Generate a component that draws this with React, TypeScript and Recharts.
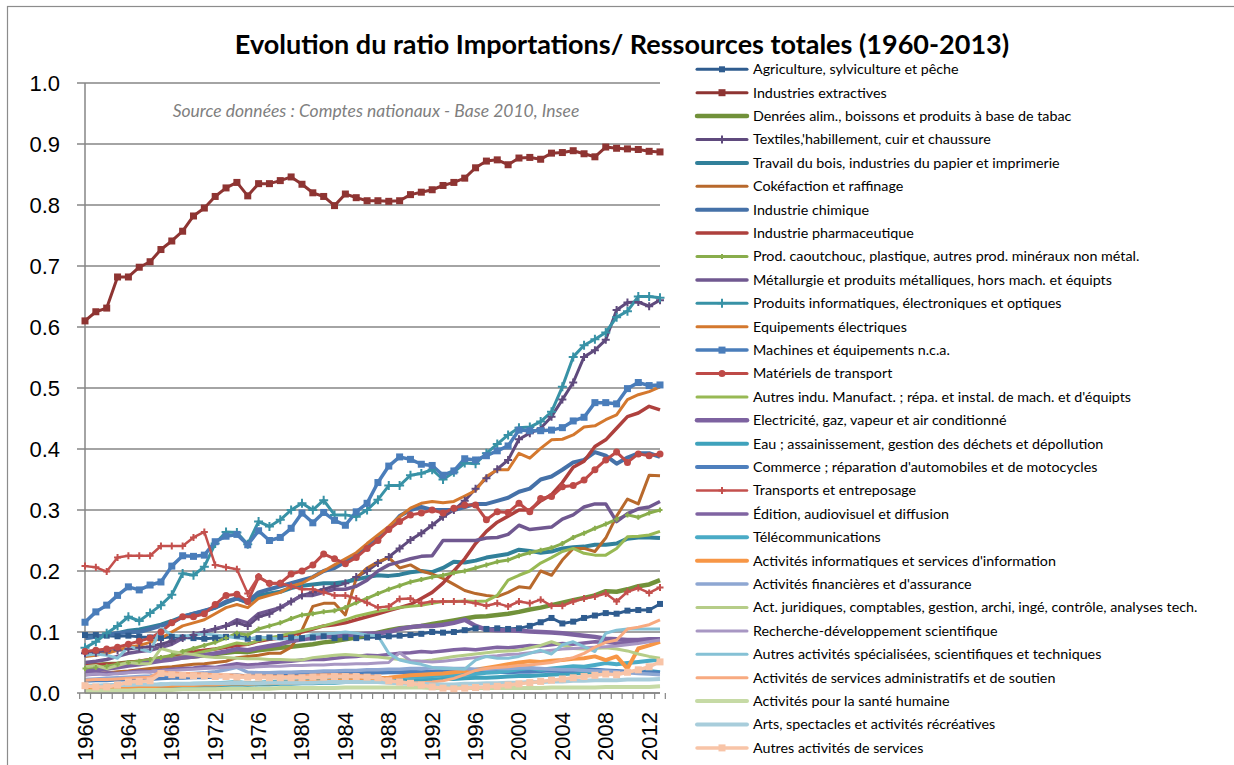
import { CartesianGrid, Line, LineChart, XAxis, YAxis } from 'recharts'

const years = [
  1960, 1961, 1962, 1963, 1964, 1965, 1966, 1967, 1968, 1969,
  1970, 1971, 1972, 1973, 1974, 1975, 1976, 1977, 1978, 1979,
  1980, 1981, 1982, 1983, 1984, 1985, 1986, 1987, 1988, 1989,
  1990, 1991, 1992, 1993, 1994, 1995, 1996, 1997, 1998, 1999,
  2000, 2001, 2002, 2003, 2004, 2005, 2006, 2007, 2008, 2009,
  2010, 2011, 2012, 2013,
]
const yearLabels = [1960, 1964, 1968, 1972, 1976, 1980, 1984, 1988, 1992, 1996, 2000, 2004, 2008, 2012]
const yTicks = [0, 0.1, 0.2, 0.3, 0.4, 0.5, 0.6, 0.7, 0.8, 0.9, 1.0]

const agriculture = [
  0.095, 0.095, 0.094, 0.093, 0.094, 0.092, 0.091, 0.090, 0.092, 0.091,
  0.090, 0.089, 0.090, 0.092, 0.094, 0.089, 0.090, 0.091, 0.092, 0.091,
  0.090, 0.091, 0.093, 0.090, 0.091, 0.090, 0.091, 0.092, 0.093, 0.094,
  0.095, 0.097, 0.100, 0.099, 0.100, 0.103, 0.106, 0.105, 0.106, 0.105,
  0.106, 0.110, 0.116, 0.123, 0.114, 0.117, 0.123, 0.127, 0.131, 0.130,
  0.135, 0.136, 0.136, 0.146,
]
const extractives = [
  0.610, 0.625, 0.631, 0.682, 0.682, 0.698, 0.707, 0.727, 0.741, 0.757,
  0.782, 0.795, 0.814, 0.828, 0.837, 0.815, 0.835, 0.835, 0.840, 0.846,
  0.834, 0.820, 0.814, 0.799, 0.818, 0.812, 0.807, 0.807, 0.806, 0.807,
  0.817, 0.821, 0.825, 0.832, 0.837, 0.844, 0.861, 0.872, 0.874, 0.866,
  0.877, 0.878, 0.875, 0.885, 0.886, 0.889, 0.884, 0.879, 0.895, 0.893,
  0.892, 0.891, 0.888, 0.887,
]
const denrees = [
  0.045, 0.046, 0.047, 0.048, 0.050, 0.051, 0.052, 0.054, 0.056, 0.058,
  0.060, 0.062, 0.064, 0.066, 0.068, 0.067, 0.070, 0.072, 0.074, 0.076,
  0.078, 0.080, 0.083, 0.085, 0.088, 0.091, 0.095, 0.099, 0.103, 0.106,
  0.108, 0.110, 0.113, 0.116, 0.119, 0.122, 0.125, 0.126, 0.128, 0.130,
  0.133, 0.137, 0.140, 0.144, 0.148, 0.152, 0.156, 0.160, 0.167, 0.166,
  0.170, 0.175, 0.178, 0.185,
]
const textiles = [
  0.065, 0.066, 0.068, 0.070, 0.072, 0.074, 0.076, 0.080, 0.085, 0.090,
  0.095, 0.100, 0.105, 0.110, 0.115, 0.110, 0.125, 0.130, 0.140, 0.150,
  0.160, 0.165, 0.170, 0.175, 0.180, 0.190, 0.200, 0.213, 0.223, 0.237,
  0.251, 0.262, 0.275, 0.289, 0.300, 0.315, 0.335, 0.352, 0.367, 0.382,
  0.416, 0.426, 0.434, 0.453, 0.481, 0.509, 0.551, 0.562, 0.579, 0.628,
  0.640, 0.641, 0.634, 0.644,
]
const bois = [
  0.090, 0.092, 0.095, 0.098, 0.102, 0.104, 0.108, 0.112, 0.118, 0.125,
  0.130, 0.134, 0.140, 0.148, 0.155, 0.148, 0.160, 0.163, 0.166, 0.172,
  0.176, 0.178, 0.180, 0.180, 0.182, 0.186, 0.190, 0.193, 0.192, 0.194,
  0.198, 0.200, 0.198, 0.205, 0.215, 0.214, 0.217, 0.222, 0.225, 0.228,
  0.235, 0.233, 0.230, 0.232, 0.237, 0.239, 0.240, 0.243, 0.243, 0.245,
  0.253, 0.255, 0.255, 0.254,
]
const cokefaction = [
  0.030, 0.032, 0.033, 0.035, 0.036, 0.038, 0.040, 0.042, 0.043, 0.045,
  0.047, 0.048, 0.050, 0.052, 0.058, 0.060, 0.062, 0.065, 0.065, 0.075,
  0.103, 0.142, 0.147, 0.147, 0.128, 0.188, 0.205, 0.215, 0.222, 0.205,
  0.210, 0.200, 0.195, 0.188, 0.178, 0.168, 0.163, 0.160, 0.158, 0.165,
  0.174, 0.172, 0.200, 0.193, 0.218, 0.237, 0.237, 0.232, 0.254, 0.290,
  0.318, 0.310, 0.357, 0.356,
]
const chimique = [
  0.090, 0.092, 0.095, 0.098, 0.100, 0.100, 0.105, 0.110, 0.115, 0.125,
  0.130, 0.135, 0.140, 0.150, 0.155, 0.150, 0.165, 0.170, 0.175, 0.180,
  0.185, 0.190, 0.200, 0.205, 0.215, 0.225, 0.240, 0.255, 0.270, 0.290,
  0.300, 0.305, 0.300, 0.300, 0.300, 0.305, 0.310, 0.310, 0.315, 0.320,
  0.330, 0.335, 0.350, 0.355, 0.366, 0.378, 0.382, 0.395, 0.389, 0.376,
  0.386, 0.393, 0.393, 0.387,
]
const pharma = [
  0.045, 0.046, 0.047, 0.048, 0.050, 0.052, 0.055, 0.058, 0.060, 0.065,
  0.068, 0.070, 0.072, 0.075, 0.078, 0.080, 0.085, 0.088, 0.090, 0.095,
  0.100, 0.105, 0.110, 0.112, 0.115, 0.120, 0.125, 0.130, 0.135, 0.140,
  0.145, 0.155, 0.165, 0.180, 0.200, 0.220, 0.245, 0.265, 0.280, 0.290,
  0.300, 0.300, 0.315, 0.325, 0.345, 0.370, 0.380, 0.404, 0.415, 0.434,
  0.453, 0.459, 0.470, 0.464,
]
const caoutchouc = [
  0.040, 0.042, 0.044, 0.047, 0.050, 0.052, 0.055, 0.058, 0.062, 0.068,
  0.073, 0.078, 0.083, 0.090, 0.098, 0.095, 0.105, 0.110, 0.115, 0.122,
  0.128, 0.130, 0.133, 0.135, 0.140, 0.148, 0.155, 0.163, 0.170, 0.176,
  0.182, 0.186, 0.190, 0.193, 0.197, 0.200, 0.205, 0.210, 0.215, 0.218,
  0.225, 0.230, 0.234, 0.238, 0.245, 0.255, 0.262, 0.270, 0.277, 0.285,
  0.292, 0.288, 0.295, 0.300,
]
const metallurgie = [
  0.050, 0.052, 0.055, 0.060, 0.065, 0.068, 0.070, 0.075, 0.080, 0.090,
  0.095, 0.100, 0.105, 0.110, 0.120, 0.115, 0.130, 0.135, 0.140, 0.150,
  0.160, 0.160, 0.165, 0.170, 0.170, 0.175, 0.185, 0.200, 0.210, 0.215,
  0.220, 0.224, 0.225, 0.250, 0.250, 0.250, 0.250, 0.254, 0.255, 0.260,
  0.275, 0.268, 0.270, 0.272, 0.285, 0.292, 0.305, 0.310, 0.310, 0.281,
  0.294, 0.302, 0.305, 0.314,
]
const informatique = [
  0.074, 0.084, 0.098, 0.110, 0.125, 0.118, 0.131, 0.144, 0.161, 0.196,
  0.193, 0.207, 0.245, 0.264, 0.263, 0.244, 0.281, 0.273, 0.284, 0.300,
  0.311, 0.300, 0.316, 0.292, 0.292, 0.289, 0.300, 0.317, 0.340, 0.340,
  0.357, 0.360, 0.366, 0.350, 0.362, 0.377, 0.376, 0.393, 0.408, 0.423,
  0.435, 0.436, 0.445, 0.461, 0.502, 0.551, 0.570, 0.580, 0.591, 0.616,
  0.626, 0.650, 0.650, 0.648,
]
const equipements = [
  0.060, 0.062, 0.065, 0.070, 0.075, 0.078, 0.083, 0.090, 0.100, 0.110,
  0.115, 0.120, 0.130, 0.140, 0.145, 0.140, 0.155, 0.160, 0.165, 0.175,
  0.180, 0.190, 0.200, 0.210, 0.220, 0.230, 0.245, 0.259, 0.273, 0.289,
  0.303, 0.311, 0.314, 0.312, 0.314, 0.323, 0.332, 0.355, 0.366, 0.366,
  0.393, 0.385, 0.401, 0.415, 0.416, 0.423, 0.436, 0.438, 0.448, 0.456,
  0.481, 0.489, 0.494, 0.502,
]
const machines = [
  0.116, 0.133, 0.144, 0.160, 0.174, 0.169, 0.177, 0.182, 0.208, 0.225,
  0.224, 0.226, 0.248, 0.257, 0.260, 0.243, 0.266, 0.250, 0.255, 0.270,
  0.295, 0.279, 0.296, 0.283, 0.275, 0.297, 0.311, 0.345, 0.372, 0.387,
  0.383, 0.375, 0.373, 0.357, 0.364, 0.384, 0.382, 0.389, 0.397, 0.405,
  0.431, 0.430, 0.430, 0.431, 0.435, 0.446, 0.452, 0.476, 0.476, 0.474,
  0.499, 0.509, 0.504, 0.505,
]
const materiels = [
  0.068, 0.070, 0.072, 0.075, 0.080, 0.085, 0.090, 0.100, 0.115, 0.125,
  0.125, 0.130, 0.145, 0.160, 0.162, 0.150, 0.190, 0.180, 0.180, 0.195,
  0.200, 0.210, 0.228, 0.220, 0.212, 0.222, 0.237, 0.250, 0.268, 0.281,
  0.292, 0.295, 0.300, 0.295, 0.303, 0.308, 0.308, 0.284, 0.297, 0.296,
  0.311, 0.297, 0.319, 0.322, 0.338, 0.340, 0.349, 0.366, 0.382, 0.395,
  0.378, 0.392, 0.389, 0.392,
]
const autresIndu = [
  0.035, 0.037, 0.039, 0.042, 0.045, 0.048, 0.050, 0.053, 0.057, 0.060,
  0.064, 0.068, 0.072, 0.077, 0.082, 0.080, 0.086, 0.090, 0.094, 0.098,
  0.102, 0.106, 0.110, 0.115, 0.120, 0.126, 0.130, 0.134, 0.137, 0.140,
  0.142, 0.144, 0.147, 0.150, 0.150, 0.151, 0.150, 0.151, 0.160, 0.185,
  0.193, 0.200, 0.213, 0.222, 0.232, 0.237, 0.229, 0.226, 0.226, 0.237,
  0.256, 0.257, 0.259, 0.265,
]
const electricite = [
  0.035, 0.037, 0.040, 0.042, 0.045, 0.047, 0.050, 0.053, 0.055, 0.058,
  0.060, 0.062, 0.065, 0.068, 0.072, 0.070, 0.074, 0.077, 0.080, 0.085,
  0.088, 0.090, 0.092, 0.094, 0.095, 0.096, 0.097, 0.098, 0.100, 0.105,
  0.108, 0.110, 0.110, 0.112, 0.115, 0.120, 0.110, 0.104, 0.103, 0.103,
  0.102, 0.101, 0.100, 0.099, 0.098, 0.096, 0.094, 0.092, 0.089, 0.088,
  0.087, 0.087, 0.088, 0.088,
]
const eau = [
  0.006, 0.007, 0.007, 0.008, 0.008, 0.009, 0.009, 0.010, 0.010, 0.011,
  0.011, 0.012, 0.012, 0.013, 0.014, 0.013, 0.014, 0.014, 0.015, 0.015,
  0.016, 0.016, 0.017, 0.017, 0.018, 0.018, 0.019, 0.019, 0.020, 0.020,
  0.021, 0.021, 0.022, 0.023, 0.023, 0.024, 0.025, 0.025, 0.026, 0.027,
  0.028, 0.028, 0.029, 0.030, 0.031, 0.032, 0.033, 0.034, 0.035, 0.033,
  0.034, 0.035, 0.036, 0.034,
]
const commerce = [
  0.020, 0.021, 0.021, 0.022, 0.022, 0.023, 0.023, 0.024, 0.025, 0.025,
  0.026, 0.026, 0.027, 0.028, 0.029, 0.027, 0.028, 0.029, 0.029, 0.030,
  0.031, 0.030, 0.031, 0.032, 0.032, 0.032, 0.033, 0.033, 0.034, 0.034,
  0.035, 0.034, 0.035, 0.036, 0.035, 0.036, 0.036, 0.035, 0.035, 0.034,
  0.035, 0.035, 0.036, 0.037, 0.036, 0.037, 0.038, 0.038, 0.037, 0.036,
  0.035, 0.034, 0.034, 0.033,
]
const transports = [
  0.208, 0.206, 0.199, 0.222, 0.225, 0.225, 0.225, 0.241, 0.241, 0.241,
  0.255, 0.264, 0.210, 0.206, 0.203, 0.163, 0.191, 0.179, 0.180, 0.175,
  0.170, 0.170, 0.165, 0.160, 0.160, 0.155, 0.148, 0.140, 0.142, 0.154,
  0.155, 0.147, 0.150, 0.150, 0.150, 0.150, 0.147, 0.143, 0.147, 0.142,
  0.150, 0.147, 0.153, 0.143, 0.143, 0.150, 0.155, 0.158, 0.163, 0.150,
  0.166, 0.172, 0.164, 0.173,
]
const edition = [
  0.030, 0.031, 0.033, 0.032, 0.034, 0.036, 0.035, 0.037, 0.039, 0.040,
  0.041, 0.043, 0.042, 0.045, 0.048, 0.046, 0.047, 0.049, 0.051, 0.052,
  0.054, 0.055, 0.055, 0.057, 0.059, 0.060, 0.062, 0.061, 0.063, 0.065,
  0.066, 0.068, 0.067, 0.069, 0.071, 0.072, 0.071, 0.073, 0.075, 0.074,
  0.076, 0.078, 0.077, 0.079, 0.081, 0.080, 0.082, 0.084, 0.083, 0.081,
  0.083, 0.085, 0.086, 0.086,
]
const telecom = [
  0.010, 0.011, 0.010, 0.012, 0.012, 0.013, 0.012, 0.014, 0.013, 0.014,
  0.015, 0.015, 0.016, 0.017, 0.018, 0.016, 0.017, 0.018, 0.019, 0.019,
  0.020, 0.020, 0.021, 0.022, 0.021, 0.022, 0.023, 0.024, 0.024, 0.026,
  0.027, 0.026, 0.028, 0.029, 0.028, 0.030, 0.031, 0.033, 0.034, 0.036,
  0.039, 0.041, 0.038, 0.040, 0.042, 0.044, 0.043, 0.046, 0.049, 0.047,
  0.049, 0.051, 0.053, 0.055,
]
const activitesInfo = [
  0.008, 0.008, 0.009, 0.009, 0.010, 0.010, 0.011, 0.012, 0.012, 0.013,
  0.013, 0.014, 0.014, 0.015, 0.016, 0.015, 0.016, 0.016, 0.017, 0.017,
  0.018, 0.019, 0.019, 0.020, 0.021, 0.021, 0.022, 0.024, 0.025, 0.027,
  0.029, 0.030, 0.031, 0.032, 0.034, 0.036, 0.038, 0.041, 0.044, 0.047,
  0.050, 0.052, 0.051, 0.053, 0.054, 0.056, 0.057, 0.060, 0.054, 0.060,
  0.040, 0.073, 0.078, 0.084,
]
const financieres = [
  0.022, 0.023, 0.024, 0.025, 0.026, 0.027, 0.028, 0.030, 0.030, 0.031,
  0.032, 0.033, 0.035, 0.038, 0.042, 0.034, 0.033, 0.033, 0.034, 0.034,
  0.035, 0.035, 0.036, 0.036, 0.037, 0.037, 0.038, 0.038, 0.039, 0.039,
  0.040, 0.040, 0.041, 0.041, 0.040, 0.040, 0.039, 0.039, 0.040, 0.040,
  0.041, 0.041, 0.040, 0.039, 0.038, 0.038, 0.037, 0.036, 0.036, 0.035,
  0.033, 0.032, 0.031, 0.030,
]
const juridiques = [
  0.043, 0.045, 0.040, 0.045, 0.050, 0.048, 0.048, 0.073, 0.068, 0.065,
  0.063, 0.060, 0.058, 0.058, 0.057, 0.056, 0.056, 0.055, 0.055, 0.054,
  0.054, 0.058, 0.060, 0.062, 0.063, 0.062, 0.060, 0.059, 0.057, 0.055,
  0.053, 0.052, 0.054, 0.057, 0.060, 0.062, 0.064, 0.066, 0.068, 0.069,
  0.070, 0.074, 0.078, 0.084, 0.078, 0.073, 0.072, 0.073, 0.074, 0.072,
  0.069, 0.064, 0.060, 0.057,
]
const recherche = [
  0.030, 0.031, 0.030, 0.032, 0.033, 0.034, 0.035, 0.036, 0.037, 0.038,
  0.039, 0.040, 0.041, 0.042, 0.043, 0.042, 0.043, 0.044, 0.044, 0.045,
  0.045, 0.046, 0.046, 0.047, 0.047, 0.048, 0.048, 0.049, 0.050, 0.066,
  0.053, 0.052, 0.051, 0.052, 0.054, 0.056, 0.058, 0.060, 0.061, 0.063,
  0.064, 0.066, 0.068, 0.070, 0.072, 0.073, 0.074, 0.075, 0.076, 0.077,
  0.079, 0.081, 0.084, 0.087,
]
const autresSpecialisees = [
  0.062, 0.064, 0.062, 0.057, 0.076, 0.072, 0.068, 0.106, 0.095, 0.093,
  0.095, 0.097, 0.095, 0.093, 0.090, 0.088, 0.092, 0.090, 0.088, 0.090,
  0.092, 0.096, 0.097, 0.098, 0.100, 0.098, 0.095, 0.094, 0.065, 0.054,
  0.050, 0.047, 0.042, 0.040, 0.040, 0.039, 0.054, 0.060, 0.057, 0.057,
  0.060, 0.065, 0.070, 0.064, 0.079, 0.084, 0.076, 0.068, 0.098, 0.103,
  0.105, 0.105, 0.105, 0.105,
]
const administratifs = [
  0.021, 0.022, 0.022, 0.023, 0.024, 0.025, 0.026, 0.035, 0.033, 0.032,
  0.032, 0.031, 0.030, 0.030, 0.029, 0.028, 0.028, 0.028, 0.027, 0.027,
  0.028, 0.029, 0.030, 0.030, 0.030, 0.029, 0.028, 0.027, 0.020, 0.018,
  0.017, 0.017, 0.018, 0.020, 0.024, 0.030, 0.037, 0.040, 0.042, 0.043,
  0.045, 0.046, 0.048, 0.050, 0.054, 0.058, 0.065, 0.075, 0.083, 0.087,
  0.105, 0.108, 0.112, 0.120,
]
const sante = [
  0.003, 0.003, 0.004, 0.004, 0.004, 0.005, 0.005, 0.005, 0.005, 0.006,
  0.006, 0.006, 0.006, 0.007, 0.007, 0.007, 0.007, 0.007, 0.008, 0.008,
  0.008, 0.008, 0.008, 0.008, 0.009, 0.009, 0.009, 0.009, 0.009, 0.009,
  0.009, 0.009, 0.008, 0.008, 0.008, 0.008, 0.008, 0.008, 0.008, 0.008,
  0.008, 0.008, 0.008, 0.009, 0.009, 0.009, 0.009, 0.009, 0.010, 0.010,
  0.010, 0.010, 0.010, 0.011,
]
const arts = [
  0.012, 0.012, 0.013, 0.013, 0.013, 0.014, 0.014, 0.014, 0.015, 0.015,
  0.015, 0.016, 0.016, 0.016, 0.017, 0.016, 0.016, 0.017, 0.017, 0.017,
  0.017, 0.017, 0.018, 0.018, 0.018, 0.018, 0.018, 0.018, 0.017, 0.016,
  0.015, 0.015, 0.014, 0.014, 0.014, 0.015, 0.015, 0.016, 0.016, 0.017,
  0.017, 0.018, 0.018, 0.019, 0.019, 0.020, 0.020, 0.021, 0.021, 0.021,
  0.022, 0.022, 0.022, 0.023,
]
const autresServices = [
  0.012, 0.010, 0.010, 0.013, 0.018, 0.019, 0.020, 0.032, 0.030, 0.029,
  0.028, 0.028, 0.027, 0.027, 0.026, 0.026, 0.026, 0.025, 0.025, 0.025,
  0.025, 0.026, 0.026, 0.027, 0.027, 0.027, 0.026, 0.025, 0.020, 0.018,
  0.016, 0.013, 0.010, 0.008, 0.007, 0.008, 0.009, 0.010, 0.011, 0.013,
  0.015, 0.017, 0.019, 0.021, 0.023, 0.025, 0.027, 0.029, 0.031, 0.030,
  0.034, 0.038, 0.043, 0.051,
]

type Marker = 'none' | 'square' | 'circle' | 'plus'

interface SeriesDef {
  key: string
  name: string
  values: number[]
  color: string
  width: number
  marker: Marker
  size?: number
}

const series: SeriesDef[] = [
  { key: 'agriculture', name: 'Agriculture, sylviculture et pêche', values: agriculture, color: '#2F5C8F', width: 3, marker: 'square', size: 6 },
  { key: 'extractives', name: 'Industries extractives', values: extractives, color: '#8E3432', width: 3, marker: 'square', size: 7 },
  { key: 'denrees', name: 'Denrées alim., boissons et produits à base de tabac', values: denrees, color: '#71913A', width: 4.5, marker: 'none' },
  { key: 'textiles', name: "Textiles,'habillement, cuir et chaussure", values: textiles, color: '#5F4A7D', width: 3, marker: 'plus', size: 8 },
  { key: 'bois', name: 'Travail du bois, industries du papier et imprimerie', values: bois, color: '#31809A', width: 4, marker: 'none' },
  { key: 'cokefaction', name: 'Cokéfaction et raffinage', values: cokefaction, color: '#B8692C', width: 3, marker: 'none' },
  { key: 'chimique', name: 'Industrie chimique', values: chimique, color: '#4571A8', width: 4, marker: 'none' },
  { key: 'pharma', name: 'Industrie pharmaceutique', values: pharma, color: '#AE403D', width: 3.5, marker: 'none' },
  { key: 'caoutchouc', name: 'Prod. caoutchouc, plastique, autres prod. minéraux non métal.', values: caoutchouc, color: '#89AD4C', width: 3, marker: 'plus', size: 5 },
  { key: 'metallurgie', name: 'Métallurgie et produits métalliques, hors mach. et équipts', values: metallurgie, color: '#705890', width: 3.5, marker: 'none' },
  { key: 'informatique', name: 'Produits informatiques, électroniques et optiques', values: informatique, color: '#3892A6', width: 3, marker: 'plus', size: 9 },
  { key: 'equipements', name: 'Equipements électriques', values: equipements, color: '#D4782E', width: 3, marker: 'none' },
  { key: 'machines', name: 'Machines et équipements n.c.a.', values: machines, color: '#4A7DBA', width: 3.5, marker: 'square', size: 7 },
  { key: 'materiels', name: 'Matériels de transport', values: materiels, color: '#BE4A47', width: 3, marker: 'circle', size: 7 },
  { key: 'autresIndu', name: "Autres indu. Manufact. ; répa. et instal. de mach. et d'équipts", values: autresIndu, color: '#98B954', width: 3, marker: 'none' },
  { key: 'electricite', name: 'Electricité, gaz, vapeur et air conditionné', values: electricite, color: '#7D62A0', width: 4.5, marker: 'none' },
  { key: 'eau', name: 'Eau ; assainissement, gestion des déchets et dépollution', values: eau, color: '#3FA2BC', width: 4, marker: 'none' },
  { key: 'commerce', name: "Commerce ; réparation d'automobiles et de motocycles", values: commerce, color: '#4E7FBD', width: 4, marker: 'none' },
  { key: 'transports', name: 'Transports et entreposage', values: transports, color: '#C4504D', width: 2.5, marker: 'plus', size: 7 },
  { key: 'edition', name: 'Édition, audiovisuel et diffusion', values: edition, color: '#8064A2', width: 3.5, marker: 'none' },
  { key: 'telecom', name: 'Télécommunications', values: telecom, color: '#4AABC6', width: 4, marker: 'none' },
  { key: 'activitesInfo', name: "Activités informatiques et services d'information", values: activitesInfo, color: '#F79646', width: 4, marker: 'none' },
  { key: 'financieres', name: "Activités financières et d'assurance", values: financieres, color: '#8EA7D2', width: 3.5, marker: 'none' },
  { key: 'juridiques', name: 'Act. juridiques, comptables, gestion, archi, ingé, contrôle, analyses tech.', values: juridiques, color: '#B6CD88', width: 3, marker: 'none' },
  { key: 'recherche', name: 'Recherche-développement scientifique', values: recherche, color: '#A897C3', width: 3, marker: 'none' },
  { key: 'autresSpecialisees', name: 'Autres activités spécialisées, scientifiques et techniques', values: autresSpecialisees, color: '#85C1D5', width: 3, marker: 'none' },
  { key: 'administratifs', name: 'Activités de services administratifs et de soutien', values: administratifs, color: '#F8AA80', width: 3, marker: 'none' },
  { key: 'sante', name: 'Activités pour la santé humaine', values: sante, color: '#C6DAA5', width: 4, marker: 'none' },
  { key: 'arts', name: 'Arts, spectacles et activités récréatives', values: arts, color: '#A8CDDB', width: 4, marker: 'none' },
  { key: 'autresServices', name: 'Autres activités de services', values: autresServices, color: '#F8C4A7', width: 3.5, marker: 'square', size: 7 },
]

const rows = years.map((year, i) => {
  const row: Record<string, number> = { year }
  series.forEach((s) => {
    row[s.key] = s.values[i]
  })
  return row
})

const CHART_W = 680
const CHART_H = 765
const MARGIN = { top: 83, right: 20, bottom: 0, left: 25 }
const Y_AXIS_W = 60
const PLOT_W = CHART_W - MARGIN.left - MARGIN.right - Y_AXIS_W
const BAND = PLOT_W / years.length
const AXIS_GREY = '#868686'

function markerShape(marker: Marker, cx: number, cy: number, size: number, color: string, key?: number) {
  if (marker === 'square') {
    return <rect key={key} x={cx - size / 2} y={cy - size / 2} width={size} height={size} fill={color} />
  }
  if (marker === 'circle') {
    return <circle key={key} cx={cx} cy={cy} r={size / 2} fill={color} />
  }
  if (marker === 'plus') {
    const h = size / 2
    return <path key={key} d={`M${cx - h},${cy}H${cx + h}M${cx},${cy - h}V${cy + h}`} stroke={color} strokeWidth={2} fill="none" />
  }
  return null
}

function makeDot(s: SeriesDef) {
  if (s.marker === 'none') return false
  return (props: any) => {
    const { cx, cy, index } = props
    if (cx == null || cy == null) return <g key={index} />
    return markerShape(s.marker, cx, cy, s.size ?? 6, s.color, index)
  }
}

function YearTick(props: any) {
  const { x, y, payload, index } = props
  const year = payload.value as number
  const left = x - BAND / 2
  return (
    <g>
      <line x1={left} x2={left} y1={y} y2={y + 6} stroke={AXIS_GREY} strokeWidth={1.2} />
      {index === years.length - 1 && (
        <line x1={x + BAND / 2} x2={x + BAND / 2} y1={y} y2={y + 6} stroke={AXIS_GREY} strokeWidth={1.2} />
      )}
      {yearLabels.includes(year) && (
        <text
          x={x}
          y={y + 19}
          transform={`rotate(-90, ${x}, ${y + 19})`}
          textAnchor="end"
          dominantBaseline="central"
          fontFamily="'Liberation Sans', Arial, sans-serif"
          fontSize={22}
          fill="#000"
        >
          {year}
        </text>
      )}
    </g>
  )
}

const LEGEND_X = 696
const LEGEND_Y0 = 69.3
const LEGEND_STEP = 23.4

export default function App() {
  return (
    <div style={{ position: 'absolute', left: 0, top: 0, width: 1234, height: 765, overflow: 'hidden', background: '#fff' }}>
      <div style={{ position: 'absolute', left: 0, top: 0 }}>
        <LineChart width={CHART_W} height={CHART_H} data={rows} margin={MARGIN}>
          <CartesianGrid vertical={false} stroke={AXIS_GREY} strokeWidth={1.5} />
          <XAxis
            dataKey="year"
            interval={0}
            height={72}
            tickSize={0}
            tickMargin={0}
            tickLine={false}
            tick={<YearTick />}
            axisLine={{ stroke: AXIS_GREY, strokeWidth: 1.5 }}
          />
          <YAxis
            domain={[0, 1]}
            ticks={yTicks}
            width={Y_AXIS_W}
            tickSize={8}
            tickMargin={17}
            tickFormatter={(v: number) => v.toFixed(1)}
            tick={{ fontSize: 22, fill: '#000', fontFamily: "'Liberation Sans', Arial, sans-serif" }}
            tickLine={{ stroke: AXIS_GREY, strokeWidth: 1.5 }}
            axisLine={{ stroke: AXIS_GREY, strokeWidth: 1.5 }}
          />
          {series.map((s) => (
            <Line
              key={s.key}
              dataKey={s.key}
              name={s.name}
              type="linear"
              stroke={s.color}
              strokeWidth={s.width}
              strokeLinejoin="round"
              dot={makeDot(s)}
              activeDot={false}
              isAnimationActive={false}
            />
          ))}
        </LineChart>
      </div>
      <svg width={1234} height={765} style={{ position: 'absolute', left: 0, top: 0, pointerEvents: 'none' }}>
        <rect x={7.5} y={6.5} width={1260} height={800} fill="none" stroke="#8C8C8C" strokeWidth={1.2} />
        <text x={622} y={54} textAnchor="middle" fontFamily="Lato, 'Open Sans', sans-serif" fontWeight={700} fontSize={27} fill="#000">
          Evolution du ratio Importations/ Ressources totales (1960-2013)
        </text>
        <text x={376} y={117} textAnchor="middle" fontFamily="Lato, 'Open Sans', sans-serif" fontStyle="italic" fontSize={17.5} fill="#7F7F7F">
          Source données : Comptes nationaux - Base 2010, Insee
        </text>
        {series.map((s, i) => {
          const cy = LEGEND_Y0 + i * LEGEND_STEP
          return (
            <g key={s.key}>
              <line x1={LEGEND_X + 1} x2={LEGEND_X + 51} y1={cy} y2={cy} stroke={s.color} strokeWidth={s.width} strokeLinecap="round" />
              {markerShape(s.marker, LEGEND_X + 26, cy, s.size ?? 6, s.color)}
              <text x={LEGEND_X + 57} y={cy + 4.8} fontFamily="Lato, 'Open Sans', sans-serif" fontSize={14.3} fill="#000">
                {s.name}
              </text>
            </g>
          )
        })}
      </svg>
    </div>
  )
}
